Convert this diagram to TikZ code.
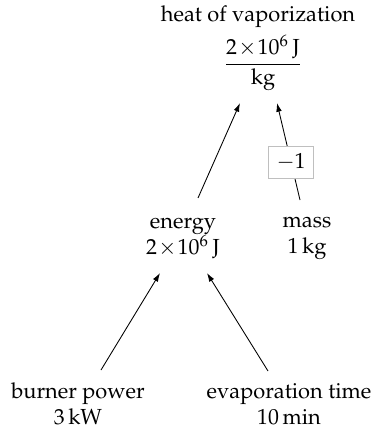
\documentclass[tikz,border=0pt]{standalone}
\usepackage[T1]{fontenc}
\usepackage{mathpazo}
\usepackage{amsmath}
\usetikzlibrary{arrows.meta,calc}
\newcommand{\tms}{\mkern1mu\times\mkern1mu}
\begin{document}
\begin{tikzpicture}[x=0.4587pt,y=-0.4587pt,
  lbl/.style={align=center, inner sep=0pt},
  arr/.style={-{Latex[length=4pt,width=2.6pt]}, line width=0.4pt},
  wbox/.style={draw=black!25, fill=white, inner sep=3.5pt, line width=0.4pt}]
\useasboundingbox (0,0) rectangle (379,426);
\node[lbl] (heat) at (258,17) {heat of vaporization};
\node[lbl] (hv) at (263,63) {$\dfrac{2{\tms}10^6\,\mathrm{J}}{\mathrm{kg}}$};
\node[lbl] (energy) at (183,238) {energy\\$2{\tms}10^6\,\mathrm{J}$};
\node[lbl] (mass) at (307,238) {mass\\$1\,\mathrm{kg}$};
\node[lbl] (burner) at (78,404) {burner power\\$3\,\mathrm{kW}$};
\node[lbl] (evap) at (289,404) {evaporation time\\$10\,\mathrm{min}$};
\draw[arr] ($(burner)+(23,-34)$) -- ($(energy)+(-23,35)$);
\draw[arr] ($(evap)+(-21,-33)$) -- ($(energy)+(24,35)$);
\draw[arr] ($(energy)+(15,-40)$) -- ($(hv)+(-23,40)$);
\draw[arr] ($(mass)+(-7,-38)$) -- node[wbox, pos=0.39] {$-1$} ($(hv)+(14,40)$);
\end{tikzpicture}
\end{document}
